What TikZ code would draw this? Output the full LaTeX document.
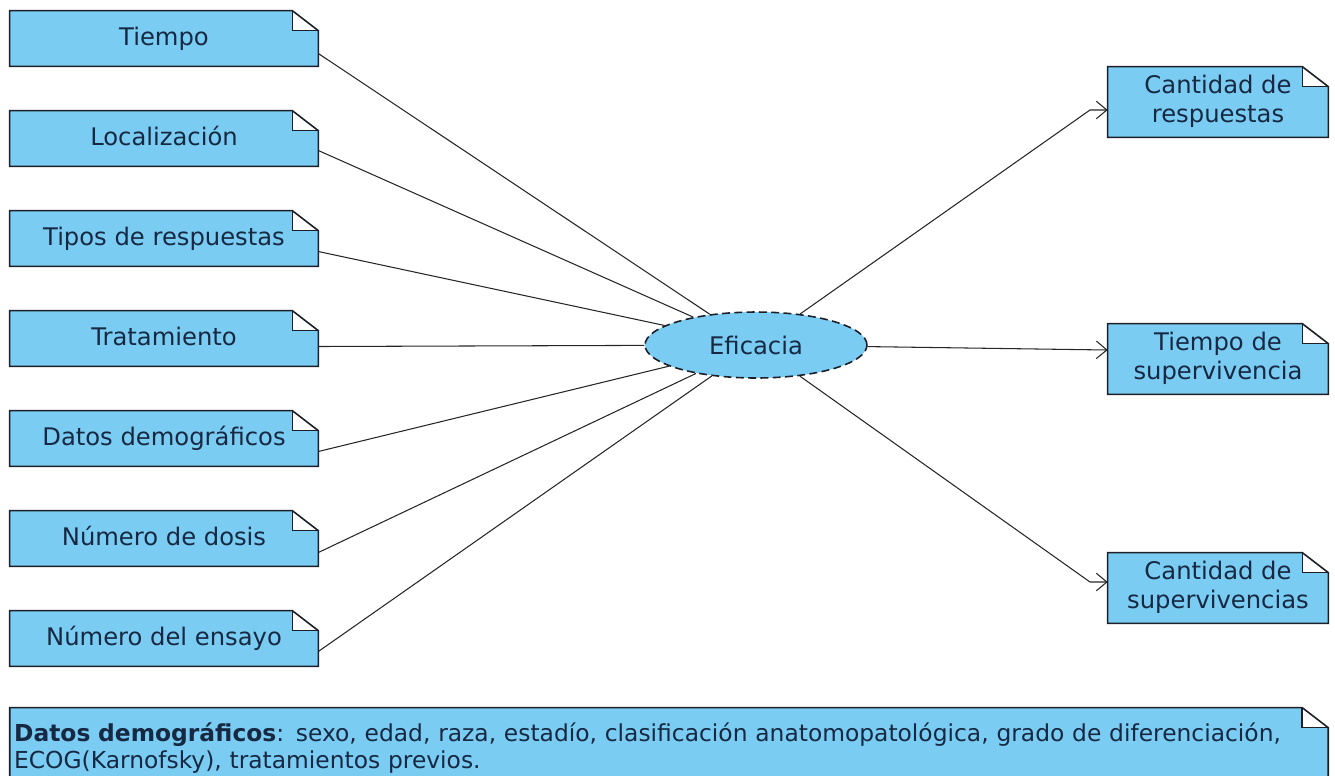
\documentclass[tikz,border=0pt]{standalone}
\usepackage{fontspec}
\setmainfont{DejaVu Sans}
\usetikzlibrary{shapes.geometric,arrows.meta}

\definecolor{notaazul}{RGB}{122,204,242}
\definecolor{bordenota}{RGB}{28,30,40}
\definecolor{textoazul}{RGB}{22,40,66}

% esquina doblada de una nota (nombre del nodo)
\newcommand{\doblez}[1]{%
  \fill[white] ([xshift=-0.52cm]#1.north east) rectangle ([yshift=-0.4cm]#1.north east);
  \draw[bordenota, line width=0.9pt] (#1.south west) -- (#1.north west) -- ([xshift=-0.52cm]#1.north east)
    -- ([yshift=-0.4cm]#1.north east) -- (#1.south east) -- cycle;
  \draw[bordenota, line width=0.9pt] ([xshift=-0.52cm]#1.north east) |- ([yshift=-0.4cm]#1.north east);
}
% texto de dos lineas, un poco mas abajo
\newcommand{\doslineas}[2]{\raisebox{-3pt}{\begin{tabular}{@{}c@{}}#1\\#2\end{tabular}}}

\begin{document}
\begin{tikzpicture}[x=0.02cm, y=-0.02cm]
    % --- estilos ---
    \tikzstyle{nota}=[rectangle, fill=notaazul, text=textoazul, inner sep=0pt, font=\fontsize{13.8}{17}\selectfont]
    \tikzstyle{notaizq}=[nota, minimum width=6.16cm, minimum height=1.1cm]
    \tikzstyle{notader}=[nota, minimum width=4.4cm, minimum height=1.4cm, align=center]
    \tikzstyle{enlace}=[line width=0.6pt, black!85]
    \tikzstyle{flecha}=[enlace, -{Straight Barb[length=6pt, width=10pt]}]

    \useasboundingbox (0,0) rectangle (1335,775);
    \clip (0,0) rectangle (1335,775);

    % ====== centro: eficacia ======
    \node[ellipse, draw=bordenota, line width=0.9pt, dash pattern=on 4.5pt off 2.5pt, fill=notaazul,
          text=textoazul, font=\fontsize{13.8}{17}\selectfont,
          minimum width=4.44cm, minimum height=1.32cm, inner sep=0pt] (eficacia) at (756,345) {Eficacia};

    % ====== notas de la izquierda ======
    \foreach \nombre/\texto [count=\i from 0] in {tiempo/Tiempo, loc/Localización,
        tipos/Tipos de respuestas, trat/Tratamiento, datos/Datos demográficos,
        dosis/Número de dosis, ensayo/Número del ensayo}
    {
        \node[notaizq] (\nombre) at (164, 38.5+100*\i) {\raisebox{3pt}{\texto}};
        \doblez{\nombre}
    }

    % enlaces hacia la elipse
    \foreach \nombre/\baja in {tiempo/15, loc/12, tipos/13, trat/8, datos/13, dosis/14, ensayo/13}
        \draw[enlace] ([yshift=-\baja*0.02cm]\nombre.east) -- (eficacia);

    % ====== notas de la derecha ======
    \node[notader] (resp) at (1218,102) {\doslineas{Cantidad de}{respuestas}};
    \doblez{resp}
    \node[notader] (superv) at (1218,359) {\doslineas{Tiempo de}{supervivencia}};
    \doblez{superv}
    \node[notader] (cantsup) at (1218,588) {\doslineas{Cantidad de}{supervivencias}};
    \doblez{cantsup}

    % flechas de salida
    \coordinate (codo1) at (1090,110);
    \coordinate (codo3) at (1090,582);
    \draw[flecha] (eficacia) -- (codo1) -- (codo1 -| resp.west);
    \draw[flecha] (eficacia) -- ([yshift=0.18cm]superv.west);
    \draw[flecha] (eficacia) -- (codo3) -- (codo3 -| cantsup.west);

    % ====== nota inferior ======
    \node[nota, minimum width=26.36cm, minimum height=1.6cm, text width=26.2cm, inner xsep=0.08cm,
          align=left, font=\fontsize{13.3}{15.5}\selectfont] (notadatos) at (669,748)
        {\mbox{\textbf{Datos demográficos}: sexo, edad, raza, estadío, clasificación anatomopatológica, grado de diferenciación,}\\
         \mbox{ECOG(Karnofsky), tratamientos previos.}};
    \doblez{notadatos}

\end{tikzpicture}
\end{document}
